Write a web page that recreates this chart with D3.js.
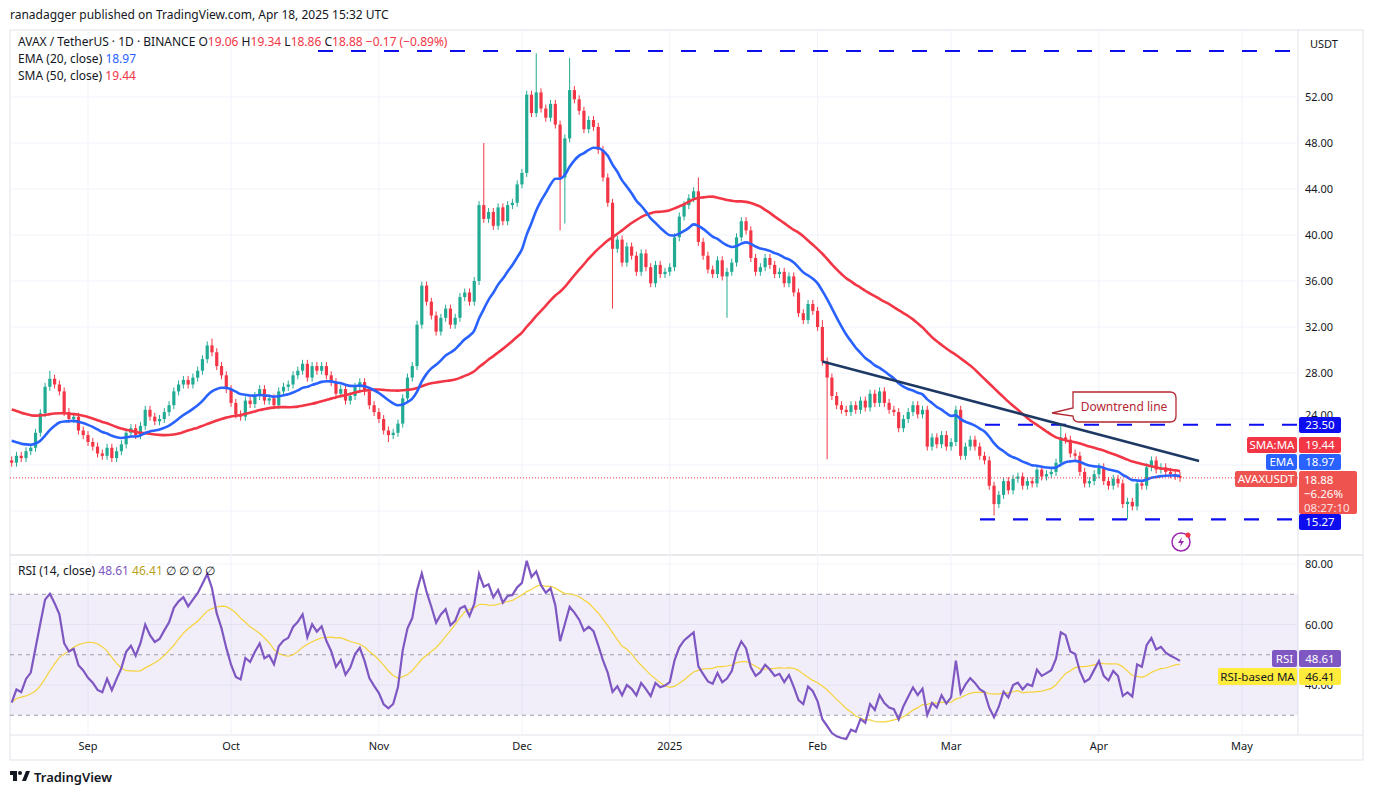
<!DOCTYPE html>
<html><head><meta charset="utf-8">
<script src="https://cdn.jsdelivr.net/npm/d3@7"></script>
<style>body{margin:0;background:#fff;font-family:"Noto Sans",Roboto,sans-serif}</style>
</head><body><svg width="1373" height="796"></svg>
<script>
// warm-up closes before the visible range (for SMA/EMA/RSI)
const warmup = [27.6,27.2,27.8,27.0,26.4,25.0,24.0,24.6,23.6,24.4,25.0,24.8,25.6,26.2,26.0,26.8,27.4,28.2,28.6,28.0,27.6,28.4,29.2,28.8,28.2,27.4,27.6,27.0,26.4,27.2,26.6,26.0,25.4,24.8,24.0,23.2,21.0,19.8,21.4,22.2,21.6,22.4,21.8,21.2,20.8,21.0,20.6,21.4,20.8,20.4];
// daily closes Aug 16 2024 .. Apr 18 2025
const closesAug = [20.2,20.8,20.6,21.2,21.5,22.8,24.5,26.8,27.5,27.0,26.4,24.6,24.0,24.2,23.0,22.6];
const closesSep = [22.0,21.6,21.0,20.8,21.5,20.6,21.2,21.8,22.8,23.2,22.6,23.4,24.8,24.2,23.8,24.0,24.6,25.2,26.4,27.0,27.4,27.0,27.6,28.2,29.2,30.4,29.8,28.6,27.8,26.6];
const closesOct = [25.4,24.4,24.2,25.6,25.3,26.0,26.6,25.6,25.8,25.2,26.4,26.8,27.0,27.8,28.2,28.8,27.6,28.6,28.2,28.6,27.8,27.2,26.2,26.6,25.6,26.0,26.8,27.2,26.4,25.2,24.6];
const closesNov = [24.0,23.0,22.6,22.8,23.6,25.8,27.6,28.6,32.2,35.6,34.2,33.0,31.6,32.8,33.6,32.2,32.8,34.6,35.0,34.2,36.0,42.6,41.4,42.0,40.8,42.4,41.2,42.6,42.8,44.4];
const closesDec = [45.4,52.2,50.6,52.4,51.0,50.2,51.4,49.6,45.0,48.4,52.6,51.8,50.8,49.2,50.0,49.4,47.4,45.0,42.8,38.8,39.6,37.6,39.0,38.2,36.8,38.4,37.2,35.8,37.4,36.6,36.8];
const closesJan = [37.2,39.8,41.6,42.6,43.2,43.8,39.4,38.2,37.0,36.6,37.8,36.4,36.8,37.6,39.8,41.2,40.4,38.0,36.8,37.2,38.0,37.4,36.6,36.8,35.8,36.4,35.0,33.2,32.6,34.0,33.4];
const closesFeb = [32.0,29.0,27.6,26.0,25.2,24.8,24.6,25.2,24.8,25.6,25.0,26.2,25.4,26.4,25.4,24.8,24.6,23.2,24.0,24.6,25.2,24.4,24.8,21.6,22.4,21.8,22.6,21.6];
const closesMar = [22.0,24.8,20.8,21.6,22.2,21.6,20.8,20.4,18.2,16.6,17.4,18.6,17.8,18.8,19.0,18.2,18.6,18.4,19.6,19.0,19.2,19.4,20.2,22.4,22.2,21.0,20.8,19.4,18.4,18.6,19.2];
const closesApr = [19.8,18.6,18.2,18.8,18.4,16.6,16.8,16.4,18.4,18.2,19.8,20.4,19.6,19.8,19.4,19.2,19.05,18.88];
// notable wicks [day index, high, low]
const wicks = [[8,28.2,null],[42,31.0,null],[79,null,22.0],[99,48.0,null],[110,55.8,null],[115,null,40.4],[116,null,41.0],[117,55.4,null],[126,null,33.6],[144,45.0,null],[150,null,32.8],[170,32.6,null],[171,null,20.5],[206,null,15.6],[220,23.5,null],[234,null,15.27]];
const priceTicks = [28,32,36,40,44,48,52];
const rsiTicks = [40,60,80];
const monthTicks = [["2024-09-01","Sep"],["2024-10-01","Oct"],["2024-11-01","Nov"],["2024-12-01","Dec"],["2025-01-01","2025"],["2025-02-01","Feb"],["2025-03-01","Mar"],["2025-04-01","Apr"],["2025-05-01","May"]];
const levels = [56.0, 23.5, 15.27];
const trend = [["2025-02-02",29.0],["2025-04-22",20.35]];

const closes = [].concat(closesAug,closesSep,closesOct,closesNov,closesDec,closesJan,closesFeb,closesMar,closesApr);
const all = warmup.concat(closes);
const W0 = warmup.length;
const start = new Date(Date.UTC(2024,7,16));
const day = i => d3.utcDay.offset(start, i);

const svg = d3.select("svg");
const x = d3.scaleUtc().domain([new Date(Date.UTC(2024,8,1)), new Date(Date.UTC(2025,4,1))]).range([88, 1242]);
const y = d3.scaleLinear().domain([52, 28]).range([97, 373]);
const yr = d3.scaleLinear().domain([80, 40]).range([564, 685]);
const PR = 1298;

// indicators
const sma = closes.map((c,i) => d3.mean(all.slice(W0+i-49, W0+i+1)));
let e = d3.mean(warmup.slice(0,20)); const k = 2/21;
const emaAll = all.map((c,i) => i < 20 ? e : (e = c*k + e*(1-k)));
const ema = emaAll.slice(W0);
let ag = 0, al = 0; const rsiAll = [];
all.forEach((c,i) => {
  if (i === 0) { rsiAll.push(50); return; }
  const ch = c - all[i-1], g = Math.max(ch,0), l = Math.max(-ch,0);
  if (i <= 14) { ag += g/14; al += l/14; } else { ag = (ag*13+g)/14; al = (al*13+l)/14; }
  rsiAll.push(al === 0 ? 100 : 100 - 100/(1+ag/al));
});
const rsi = rsiAll.slice(W0);
const rsiMa = closes.map((c,i) => d3.mean(rsiAll.slice(W0+i-13, W0+i+1)));

// panes & grid
svg.append("rect").attr("x",10).attr("y",30).attr("width",1353).attr("height",730).attr("fill","none").attr("stroke","#e0e3eb");
svg.append("line").attr("x1",PR).attr("x2",PR).attr("y1",30).attr("y2",735).attr("stroke","#e0e3eb");
svg.append("line").attr("x1",10).attr("x2",1363).attr("y1",555).attr("y2",555).attr("stroke","#d1d4dc");
svg.append("line").attr("x1",10).attr("x2",1363).attr("y1",735).attr("y2",735).attr("stroke","#e0e3eb");
const grid = svg.append("g").attr("stroke","#f0f3fa");
monthTicks.forEach(m => { const xx = x(new Date(m[0])); grid.append("line").attr("x1",xx).attr("x2",xx).attr("y1",30).attr("y2",735); });
[24,...priceTicks,20,16].forEach(p => grid.append("line").attr("x1",10).attr("x2",PR).attr("y1",y(p)).attr("y2",y(p)));
rsiTicks.forEach(p => grid.append("line").attr("x1",10).attr("x2",PR).attr("y1",yr(p)).attr("y2",yr(p)));

// axes labels
const ax = svg.append("g").attr("font-size",11).attr("fill","#131722");
priceTicks.forEach(p => ax.append("text").attr("x",1319).attr("y",y(p)+4).attr("text-anchor","middle").text(p.toFixed(2)));
ax.append("text").attr("x",1319).attr("y",y(24)).attr("text-anchor","middle").text("24.00");
rsiTicks.forEach(p => ax.append("text").attr("x",1319).attr("y",yr(p)+4).attr("text-anchor","middle").text(p.toFixed(2)));
monthTicks.forEach(m => ax.append("text").attr("x",x(new Date(m[0]))).attr("y",750).attr("text-anchor","middle").text(m[1]));
ax.append("text").attr("x",1310).attr("y",48).attr("font-size",11).text("USDT");

// clip price pane
svg.append("clipPath").attr("id","pc").append("rect").attr("x",10).attr("y",30).attr("width",PR-10).attr("height",525);
const pp = svg.append("g").attr("clip-path","url(#pc)");

// levels
levels.forEach((v,i) => pp.append("line").attr("x1", i===0 ? 318 : (i===1 ? 985 : 980)).attr("x2",PR)
  .attr("y1",y(v)).attr("y2",y(v)).attr("stroke","#0d0df0").attr("stroke-width",2.2).attr("stroke-dasharray","15,18"));

// candles
const wmap = new Map(wicks.map(w => [w[0], w]));
const cg = pp.append("g");
closes.forEach((c,i) => {
  const o = i === 0 ? all[W0-1] : closes[i-1];
  const up = c >= o, col = up ? "#22ab94" : "#f23645";
  const xx = x(day(i));
  const w = wmap.get(i);
  const top = Math.min(y(o),y(c)), bot = Math.max(y(o),y(c));
  const hi = w && w[1] ? y(w[1]) : top - 4, lo = w && w[2] ? y(w[2]) : bot + 4;
  cg.append("line").attr("x1",xx).attr("x2",xx).attr("y1",hi).attr("y2",lo).attr("stroke",col).attr("stroke-width",1);
  cg.append("rect").attr("x",xx-1.6).attr("y",top).attr("width",3.2).attr("height",Math.max(bot-top,1)).attr("fill",col);
});

// MAs
const line = d3.line().x((d,i) => x(day(i))).y(d => y(d)).curve(d3.curveMonotoneX);
pp.append("path").attr("d",line(sma)).attr("fill","none").attr("stroke","#f23645").attr("stroke-width",2.6);
pp.append("path").attr("d",line(ema)).attr("fill","none").attr("stroke","#2962ff").attr("stroke-width",2.6);

// last price line
pp.append("line").attr("x1",10).attr("x2",PR).attr("y1",y(18.88)).attr("y2",y(18.88)).attr("stroke","#f23645").attr("stroke-dasharray","1,2");

// trend line
pp.append("line").attr("x1",x(new Date(trend[0][0]))).attr("y1",y(trend[0][1])).attr("x2",x(new Date(trend[1][0]))).attr("y2",y(trend[1][1]))
  .attr("stroke","#1e3a64").attr("stroke-width",2.5);

// callout
pp.append("path").attr("d","M1073,392 H1170 Q1176,392 1176,398 V416 Q1176,422 1170,422 H1079 Q1073,422 1073,416 L1052,413 L1073,408 Z")
  .attr("fill","#fff").attr("stroke","#b22833").attr("stroke-width",1.3);
pp.append("text").attr("x",1124).attr("y",411).attr("text-anchor","middle").attr("font-size",12).attr("fill","#b22833").text("Downtrend line");

// lightning icon
const li = svg.append("g").attr("transform","translate(1181,542)");
li.append("circle").attr("r",9).attr("fill","none").attr("stroke","#9c27b0").attr("stroke-width",1.5);
li.append("path").attr("d","M1,-5 L-3,1 L0,1 L-1,5 L3,-1 L0,-1 Z").attr("fill","#9c27b0");
li.append("circle").attr("cx",7).attr("cy",-7).attr("r",2.5).attr("fill","#f23645");

// RSI pane
svg.append("rect").attr("x",10).attr("y",yr(70)).attr("width",PR-10).attr("height",yr(30)-yr(70)).attr("fill","#7e57c2").attr("opacity",0.1);
[70,50,30].forEach(v => svg.append("line").attr("x1",10).attr("x2",PR).attr("y1",yr(v)).attr("y2",yr(v)).attr("stroke","#787b86").attr("stroke-dasharray","4,4").attr("opacity",0.7));
const rline = d3.line().x((d,i) => x(day(i))).y(d => yr(d));
svg.append("path").attr("d",rline(rsiMa)).attr("fill","none").attr("stroke","#f5d33b").attr("stroke-width",1.2);
svg.append("path").attr("d",rline(rsi)).attr("fill","none").attr("stroke","#7e57c2").attr("stroke-width",2.2);

// right-side labels
function tag(x0, y0, w, h, fill, txt, color) {
  svg.append("rect").attr("x",x0).attr("y",y0).attr("width",w).attr("height",h).attr("rx",2).attr("fill",fill);
  svg.append("text").attr("x",x0+w/2).attr("y",y0+h/2+4).attr("text-anchor","middle").attr("font-size",11.5).attr("fill",color).text(txt);
}
tag(1299,417,42,16,"#0d0df0","23.50","#fff");
tag(1299,514,42,16,"#0d0df0","15.27","#fff");
tag(1247,437,50,16,"#f23645","SMA:MA","#fff");
tag(1299,437,42,16,"#f23645","19.44","#fff");
tag(1266,454,31,16,"#2962ff","EMA","#fff");
tag(1299,454,42,16,"#2962ff","18.97","#fff");
tag(1235,471,62,16,"#ef5350","AVAXUSDT","#fff");
svg.append("rect").attr("x",1299).attr("y",471).attr("width",58).attr("height",43).attr("rx",2).attr("fill","#ef5350");
["18.88","−6.26%","08:27:10"].forEach((t,i) => svg.append("text").attr("x",1304).attr("y",484+i*14).attr("font-size",11.5).attr("fill",i===2?"#fde0e0":"#fff").text(t));
tag(1272,650,25,17,"#7e57c2","RSI","#fff");
tag(1299,650,42,17,"#7e57c2","48.61","#fff");
tag(1218,668,79,17,"#ffeb3b","RSI-based MA","#131722");
tag(1299,668,42,17,"#ffeb3b","46.41","#131722");

// header & legend
const t = svg.append("g").attr("font-size",12).attr("fill","#131722");
t.append("text").attr("x",10).attr("y",19).text("ranadagger published on TradingView.com, Apr 18, 2025 15:32 UTC");
const lg = t.append("text").attr("x",18).attr("y",46);
lg.append("tspan").text("AVAX / TetherUS · 1D · BINANCE  O");
lg.append("tspan").attr("fill","#f23645").text("19.06");
lg.append("tspan").text("  H");
lg.append("tspan").attr("fill","#f23645").text("19.34");
lg.append("tspan").text("  L");
lg.append("tspan").attr("fill","#f23645").text("18.86");
lg.append("tspan").text("  C");
lg.append("tspan").attr("fill","#f23645").text("18.88  −0.17 (−0.89%)");
const l2 = t.append("text").attr("x",18).attr("y",63);
l2.append("tspan").text("EMA (20, close)  "); l2.append("tspan").attr("fill","#2962ff").text("18.97");
const l3 = t.append("text").attr("x",18).attr("y",80);
l3.append("tspan").text("SMA (50, close)  "); l3.append("tspan").attr("fill","#f23645").text("19.44");
const l4 = t.append("text").attr("x",18).attr("y",575);
l4.append("tspan").text("RSI (14, close)  "); l4.append("tspan").attr("fill","#7e57c2").text("48.61");
l4.append("tspan").attr("fill","#b8a21a").text("  46.41"); l4.append("tspan").text("  ∅  ∅  ∅  ∅");

// logo
const lo = svg.append("g").attr("transform","translate(10,771)");
lo.append("path").attr("d","M0,0 H7 V10 H3 V4 H0 Z").attr("fill","#131722");
lo.append("circle").attr("cx",10).attr("cy",2).attr("r",2).attr("fill","#131722");
lo.append("path").attr("d","M12,10 L16,0 H20 L16,10 Z").attr("fill","#131722");
lo.append("text").attr("x",24).attr("y",11).attr("font-size",13).attr("font-weight",600).attr("fill","#131722").text("TradingView");
</script></body></html>
